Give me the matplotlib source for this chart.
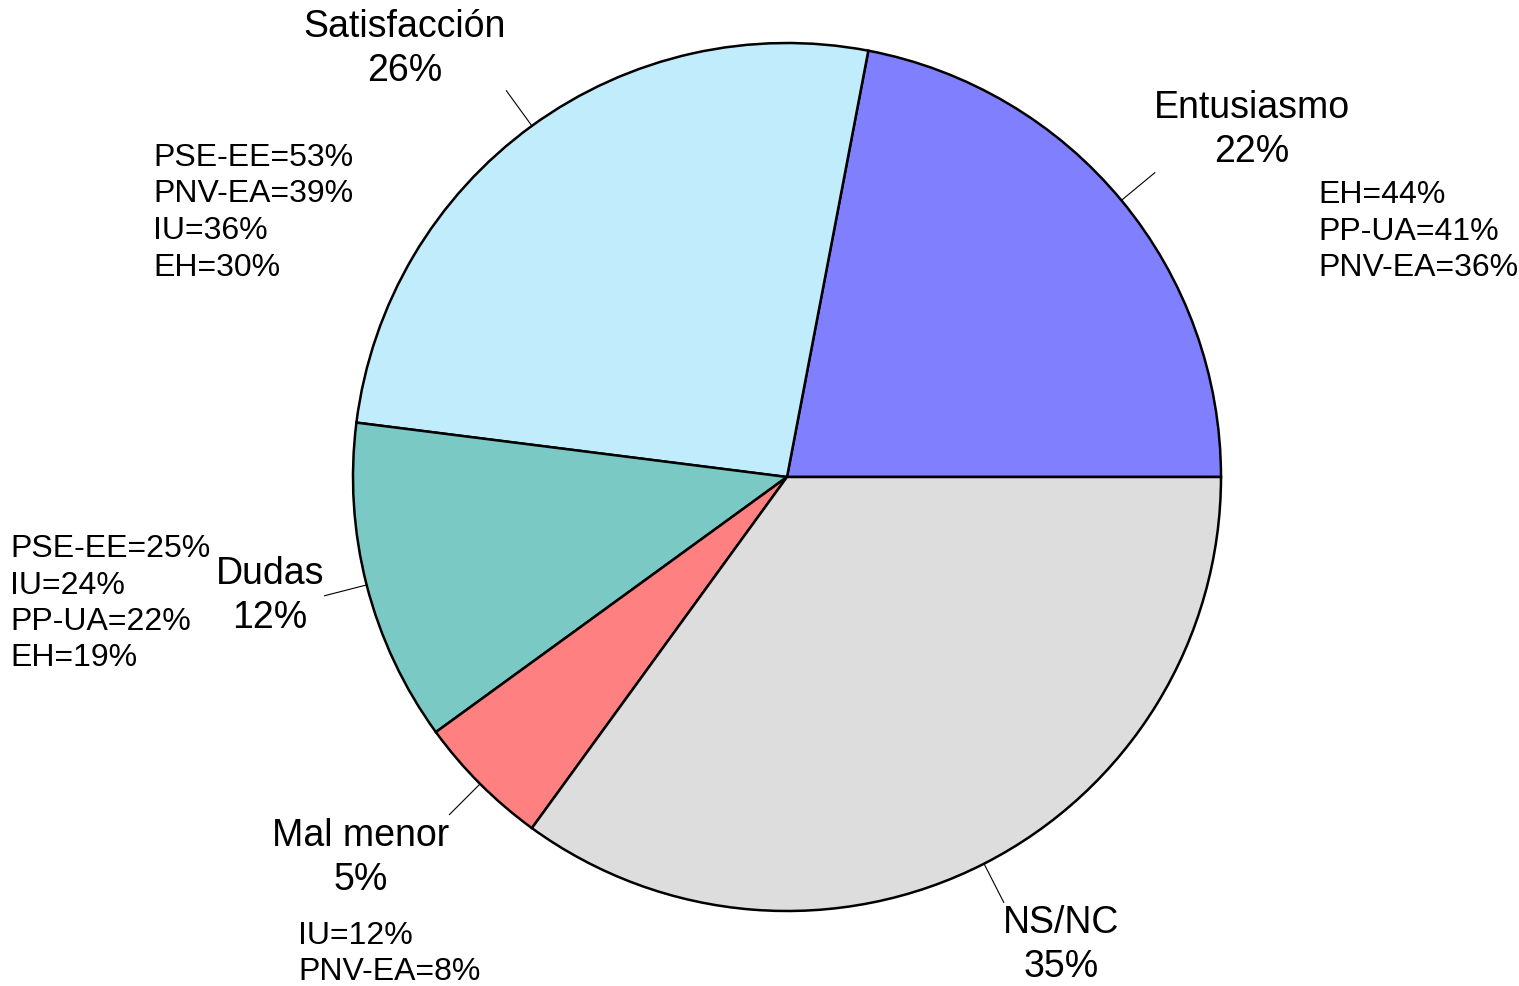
import numpy as np
import matplotlib
matplotlib.use("Agg")
import matplotlib.pyplot as plt

plt.rcParams['font.family'] = ['Liberation Sans', 'DejaVu Sans']

labels = ['Entusiasmo', 'Satisfacción', 'Dudas', 'Mal menor', 'NS/NC']
values = [22, 26, 12, 5, 35]
colors = ['#8080FF', '#C0ECFC', '#7AC9C4', '#FF8080', '#DDDDDD']
party_notes = [
    ['EH=44%', 'PP-UA=41%', 'PNV-EA=36%'],
    ['PSE-EE=53%', 'PNV-EA=39%', 'IU=36%', 'EH=30%'],
    ['PSE-EE=25%', 'IU=24%', 'PP-UA=22%', 'EH=19%'],
    ['IU=12%', 'PNV-EA=8%'],
    [],
]

W, H = 1519, 986
fig = plt.figure(figsize=(W / 100, H / 100), dpi=100)
ax = fig.add_axes([0, 0, 1, 1])
ax.set_aspect('equal')
ax.axis('off')

cx, cy, R = 787, H - 477, 434
wedges, _ = ax.pie(values, colors=colors, startangle=0, counterclock=True,
                   center=(cx, cy), radius=R,
                   wedgeprops=dict(edgecolor='black', linewidth=1.8))
ax.set_xlim(0, W)
ax.set_ylim(0, H)

# label centre positions (pixel coords from top) and note anchor (left, first line)
label_pos = [(1252, 130), (405, 49), (270, 596), (361, 858), (1061, 945)]
note_pos = [(1318, 195), (153, 158), (10, 549), (298, 936), None]

for w, lab, v, lp, notes, npos in zip(wedges, labels, values, label_pos,
                                      party_notes, note_pos):
    ang = np.deg2rad((w.theta1 + w.theta2) / 2)
    ax.plot([cx + R * np.cos(ang), cx + 1.1 * R * np.cos(ang)],
            [cy + R * np.sin(ang), cy + 1.1 * R * np.sin(ang)],
            color='black', lw=0.8)
    ax.text(lp[0], H - lp[1], f'{lab}\n{v}%', ha='center', va='center',
            fontsize=27, linespacing=1.32)
    if notes:
        for i, n in enumerate(notes):
            ax.text(npos[0], H - (npos[1] + i * 36.5), n, ha='left',
                    va='center', fontsize=23)

fig.savefig('out.png', dpi=100)
